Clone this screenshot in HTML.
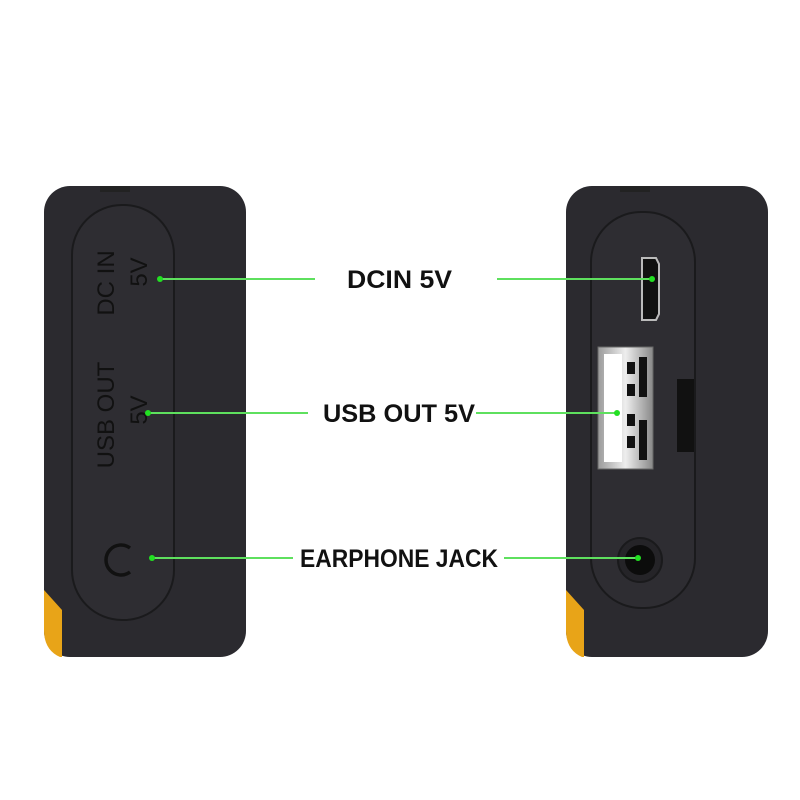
<!DOCTYPE html>
<html><head><style>html,body{margin:0;padding:0;background:#fff;}svg{display:block}</style></head>
<body>
<svg width="800" height="800" viewBox="0 0 800 800" xmlns="http://www.w3.org/2000/svg">
<defs>
<linearGradient id="usb" x1="0" x2="1"><stop offset="0" stop-color="#9a9a9a"/><stop offset="0.5" stop-color="#eee"/><stop offset="1" stop-color="#888"/></linearGradient>
</defs>
<rect width="800" height="800" fill="#fff"/>
<!-- left device -->
<rect x="44" y="186" width="202" height="471" rx="26" fill="#2b2a2f"/>
<path d="M44 590 L62 610 L62 657 L60 657 Q44 650 44 630 Z" fill="#e8a418"/>
<rect x="100" y="186" width="30" height="6" fill="#222"/>
<rect x="72" y="205" width="102" height="415" rx="50" fill="#2e2d32" stroke="#1a1a1c" stroke-width="2"/>
<g font-family="Liberation Sans, sans-serif" font-size="24" fill="#111">
<text transform="translate(114,283) rotate(-90)" text-anchor="middle">DC IN</text>
<text transform="translate(147,272) rotate(-90)" text-anchor="middle">5V</text>
<text transform="translate(114,415) rotate(-90)" text-anchor="middle">USB OUT</text>
<text transform="translate(147,410) rotate(-90)" text-anchor="middle">5V</text>
</g>
<path d="M130 548 A15 15 0 1 0 130 572" fill="none" stroke="#111" stroke-width="3.5"/>
<!-- right device -->
<rect x="566" y="186" width="202" height="471" rx="26" fill="#2b2a2f"/>
<path d="M566 590 L584 610 L584 657 L582 657 Q566 650 566 630 Z" fill="#e8a418"/>
<rect x="620" y="186" width="30" height="6" fill="#222"/>
<rect x="591" y="212" width="104" height="396" rx="50" fill="#2e2d32" stroke="#1a1a1c" stroke-width="2"/>
<path d="M642 258 L656 258 L659 264 L659 314 L656 320 L642 320 Z" fill="#111" stroke="#bbb" stroke-width="2"/>
<rect x="598" y="347" width="55" height="122" fill="url(#usb)" stroke="#666"/>
<rect x="604" y="354" width="18" height="108" fill="#fff"/>
<rect x="627" y="362" width="8" height="12" fill="#111"/>
<rect x="627" y="384" width="8" height="12" fill="#111"/>
<rect x="627" y="414" width="8" height="12" fill="#111"/>
<rect x="627" y="436" width="8" height="12" fill="#111"/>
<rect x="639" y="357" width="8" height="40" fill="#111"/>
<rect x="639" y="420" width="8" height="40" fill="#111"/>
<rect x="677" y="379" width="17" height="73" fill="#111"/>
<circle cx="640" cy="560" r="22" fill="#252428" stroke="#1a1a1c" stroke-width="2"/>
<circle cx="640" cy="560" r="15" fill="#0c0c0c"/>
<!-- connectors -->
<g stroke="#5ee05e" stroke-width="2">
<line x1="160" y1="279" x2="315" y2="279"/>
<line x1="497" y1="279" x2="652" y2="279"/>
<line x1="148" y1="413" x2="308" y2="413"/>
<line x1="476" y1="413" x2="617" y2="413"/>
<line x1="152" y1="558" x2="293" y2="558"/>
<line x1="504" y1="558" x2="638" y2="558"/>
</g>
<g fill="#22e022">
<circle cx="160" cy="279" r="3"/><circle cx="652" cy="279" r="3"/>
<circle cx="148" cy="413" r="3"/><circle cx="617" cy="413" r="3"/>
<circle cx="152" cy="558" r="3"/><circle cx="638" cy="558" r="3"/>
</g>
<g font-family="Liberation Sans, sans-serif" font-weight="bold" font-size="25" fill="#111">
<text x="347" y="288" textLength="105" lengthAdjust="spacingAndGlyphs">DCIN 5V</text>
<text x="323" y="422" textLength="152" lengthAdjust="spacingAndGlyphs">USB OUT 5V</text>
<text x="300" y="567" textLength="198" lengthAdjust="spacingAndGlyphs">EARPHONE JACK</text>
</g>
</svg>
</body></html>
